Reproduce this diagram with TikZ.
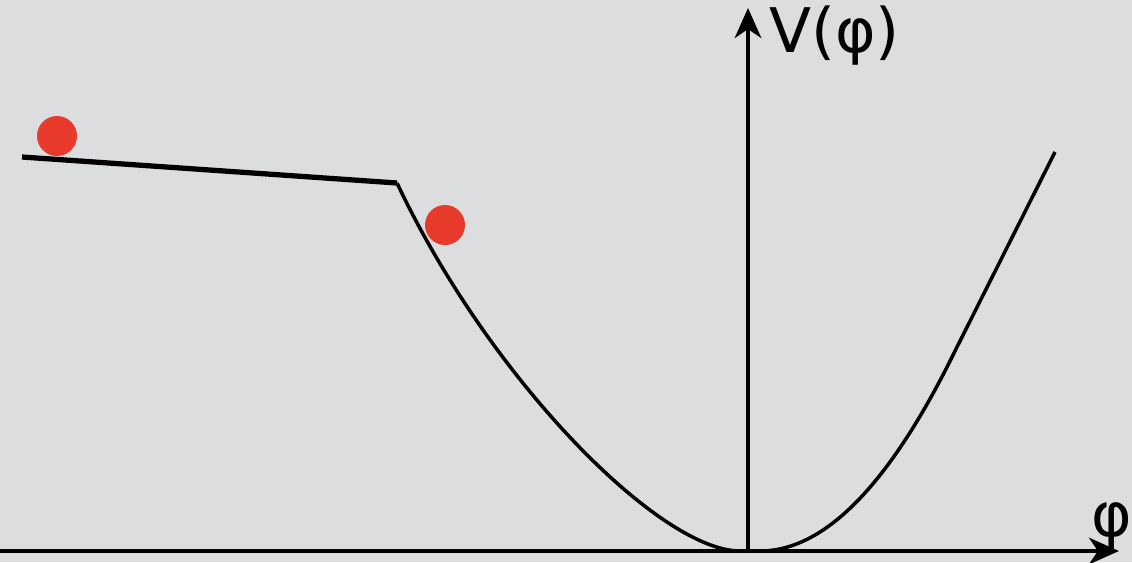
\documentclass[tikz,border=0pt]{standalone}
\usepackage{fontspec}
\newfontfamily\labelfont{DejaVu Sans}
\usetikzlibrary{arrows.meta}
\definecolor{bgc}{RGB}{220,221,223}
\definecolor{ballc}{RGB}{232,58,42}
\tikzset{
  axisline/.style={line width=2.7pt,-{Stealth[length=17pt,width=15pt,inset=5pt]}},
  curveline/.style={line width=2pt,line join=round},
  flatline/.style={line width=3pt},
  ball/.style={circle,fill=ballc,inner sep=0pt,minimum size=0.8cm},
  axlabel/.style={font=\labelfont\fontsize{35}{38}\selectfont,inner sep=0pt,anchor=base west}
}
\begin{document}
\begin{tikzpicture}[x=0.02cm,y=-0.02cm]
\fill[bgc] (0,0) rectangle (1132,562);
\useasboundingbox (0,0) rectangle (1132,562);
\coordinate (o) at (748,551);
\coordinate (xl) at (0,551);
\coordinate (xt) at (1119,551);
\coordinate (yt) at (748,8);
\coordinate (p0) at (22,157);
\coordinate (k) at (397,183);
\coordinate (lb) at (740,551);
\coordinate (rb) at (760,551);
\coordinate (rm) at (955,351);
\coordinate (r1) at (1055,152);
% potential
\draw[flatline] (p0) -- (k);
\draw[curveline] (k) .. controls (490,380) and (660,551) .. (lb) -- (rb)
  .. controls (825,551) and (890,484) .. (rm) -- (r1);
% axes
\draw[axisline] (xl) -- (xt);
\draw[axisline] (o) -- (yt);
\node[axlabel] (vl) at (769,52) {V(φ)};
\node[axlabel] (pl) at (1091,536) {φ};
% balls
\node[ball] (b1) at (57,136) {};
\node[ball] (b2) at (445,225) {};
\end{tikzpicture}
\end{document}
